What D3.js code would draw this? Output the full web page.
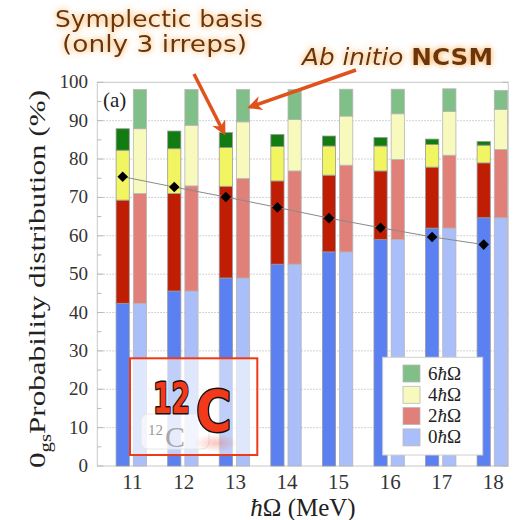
<!DOCTYPE html>
<html><head><meta charset="utf-8">
<script src="https://cdn.jsdelivr.net/npm/d3@7"></script>
<style>body{margin:0;background:#fff}svg{display:block}</style>
</head><body>
<svg id="chart" width="513" height="520"></svg>
<script>
// ħΩ values (MeV)
const categories = [11, 12, 13, 14, 15, 16, 17, 18];
const shellKeys = ["s0", "s2", "s4", "s6"];
const shellLabels = ["0", "2", "4", "6"];

// Symplectic basis (only 3 irreps): probability per Nħω shell, %
const sympl0 = [42.4, 45.6, 49.0, 52.6, 55.8, 59.0, 62.0, 64.7];
const sympl2 = [26.9, 25.4, 23.9, 21.7, 20.0, 17.9, 15.9, 14.3];
const sympl4 = [13.0, 11.7, 10.1, 9.0, 7.6, 6.5, 5.9, 4.6];
const sympl6 = [5.6, 4.6, 3.9, 3.1, 2.6, 2.2, 1.4, 1.0];

// Ab initio NCSM: probability per Nħω shell, %
const ncsm0 = [42.4, 45.6, 49.0, 52.6, 55.8, 59.0, 62.0, 64.7];
const ncsm2 = [28.6, 27.4, 25.9, 24.3, 22.6, 20.9, 19.0, 17.8];
const ncsm4 = [16.9, 15.8, 14.8, 13.4, 12.8, 11.9, 11.4, 10.4];
const ncsm6 = [10.2, 9.3, 8.4, 7.8, 7.0, 6.4, 5.9, 5.0];

// Leading irrep contribution, %
const leadingIrrep = [75.4, 72.7, 70.1, 67.4, 64.6, 62.1, 59.7, 57.7];

const yTicks = [0, 10, 20, 30, 40, 50, 60, 70, 80, 90, 100];

const symplColors = ["#5b80f2", "#bf1d04", "#f2f562", "#127c12"];
const ncsmColors = ["#aabff9", "#e08079", "#f8fabd", "#80bf87"];

const serif = "'Liberation Serif', 'Times New Roman', serif";

const svg = d3.select("#chart");
const defs = svg.append("defs");

// soft orange glow behind the annotation text
const glow = defs.append("filter").attr("id", "glow")
  .attr("x", "-20%").attr("y", "-40%").attr("width", "140%").attr("height", "180%");
glow.append("feGaussianBlur").attr("in", "SourceAlpha").attr("stdDeviation", 3.4).attr("result", "b");
glow.append("feFlood").attr("flood-color", "#f7a23c").attr("flood-opacity", 1);
glow.append("feComposite").attr("in2", "b").attr("operator", "in").attr("result", "g");
const gm = glow.append("feMerge");
gm.append("feMergeNode").attr("in", "g");
gm.append("feMergeNode").attr("in", "SourceGraphic");

// faint reddish reflection under the badge letter
const refl = defs.append("radialGradient").attr("id", "refl");
refl.append("stop").attr("offset", "0%").attr("stop-color", "#f05a40").attr("stop-opacity", 0.35);
refl.append("stop").attr("offset", "100%").attr("stop-color", "#f05a40").attr("stop-opacity", 0);

defs.append("marker").attr("id", "head")
  .attr("viewBox", "0 0 10 10").attr("refX", 8).attr("refY", 5)
  .attr("markerWidth", 4.2).attr("markerHeight", 4.2).attr("orient", "auto")
  .append("path").attr("d", "M0,0 L10,5 L0,10 L3,5 Z").attr("fill", "#e0521b");

const x = d3.scalePoint().domain(categories).range([131.3, 492.3]);
const y = d3.scaleLinear().domain([0, 100]).range([466, 82.3]);
const left = 97.3, right = 508.3;
const barW = 13.2, gap = 2;

// gridlines
svg.append("g").selectAll("line").data(yTicks.filter(d => d > 0 && d < 100)).join("line")
  .attr("x1", left).attr("x2", right).attr("y1", d => y(d)).attr("y2", d => y(d))
  .attr("stroke", "#c4c4c4").attr("stroke-width", 1).attr("stroke-dasharray", "1.5,1.5");

// frame
svg.append("rect").attr("x", left).attr("y", y(100)).attr("width", right - left)
  .attr("height", y(0) - y(100)).attr("fill", "none").attr("stroke", "#c8c8c8").attr("stroke-width", 1);

// inward ticks on both sides
const minor = d3.range(5, 100, 10);
[[left, 1], [right, -1]].forEach(([x0, dir]) => {
  svg.append("g").selectAll("line").data(minor).join("line")
    .attr("x1", x0).attr("x2", x0 + dir * 4).attr("y1", d => y(d)).attr("y2", d => y(d))
    .attr("stroke", "#b8b8b8");
  svg.append("g").selectAll("line").data(yTicks).join("line")
    .attr("x1", x0).attr("x2", x0 + dir * 6).attr("y1", d => y(d)).attr("y2", d => y(d))
    .attr("stroke", "#b8b8b8");
});

// y tick labels
svg.append("g").selectAll("text").data(yTicks).join("text")
  .attr("x", 88).attr("y", d => y(d) + 6).attr("text-anchor", "end")
  .attr("font-family", serif).attr("font-size", 19).attr("fill", "#333")
  .text(d => d);

// x tick labels
svg.append("g").selectAll("text").data(categories).join("text")
  .attr("x", d => x(d) + 1).attr("y", 489).attr("text-anchor", "middle")
  .attr("font-family", serif).attr("font-size", 21).attr("fill", "#333")
  .text(d => d);

// stacked bars
const symplRows = categories.map((c, i) => ({ c, s0: sympl0[i], s2: sympl2[i], s4: sympl4[i], s6: sympl6[i] }));
const ncsmRows = categories.map((c, i) => ({ c, s0: ncsm0[i], s2: ncsm2[i], s4: ncsm4[i], s6: ncsm6[i] }));
const stack = d3.stack().keys(shellKeys);

function drawStacks(rows, colors, offset, stroke) {
  const layers = stack(rows);
  const g = svg.append("g");
  layers.forEach((layer, k) => {
    g.append("g").attr("fill", colors[k]).attr("stroke", stroke).attr("stroke-width", 0.8)
      .selectAll("rect").data(layer).join("rect")
      .attr("x", d => x(d.data.c) + offset)
      .attr("width", barW)
      .attr("y", d => y(d[1]))
      .attr("height", d => y(d[0]) - y(d[1]));
  });
}
drawStacks(symplRows, symplColors, -gap - barW, "#9a9a9a");
drawStacks(ncsmRows, ncsmColors, gap, "#b5b5b5");

// leading irrep line + diamonds
const px = d => x(d) - gap - barW / 2;
svg.append("path")
  .datum(categories.map((c, i) => [px(c), y(leadingIrrep[i])]))
  .attr("d", d3.line()).attr("fill", "none").attr("stroke", "#8a8a8a").attr("stroke-width", 1);
svg.append("g").selectAll("path").data(categories).join("path")
  .attr("transform", (c, i) => `translate(${px(c)},${y(leadingIrrep[i])}) rotate(45)`)
  .attr("d", d3.symbol(d3.symbolSquare, 56)).attr("fill", "#000");

// panel label
svg.append("text").attr("x", 103).attr("y", 107)
  .attr("font-family", serif).attr("font-size", 21).attr("fill", "#222").text("(a)");

// legend
const lg = svg.append("g");
lg.append("rect").attr("x", 382.7).attr("y", 357.3).attr("width", 100).attr("height", 97.7)
  .attr("fill", "#fff").attr("stroke", "#d0d0d0");
[3, 2, 1, 0].forEach((k, j) => {
  const cy = 373.5 + j * 21.3;
  lg.append("rect").attr("x", 403).attr("y", cy - 8.5).attr("width", 17).attr("height", 17)
    .attr("fill", ncsmColors[k]).attr("stroke", "#b9b9b9").attr("stroke-width", 0.8);
  const t = lg.append("text").attr("x", 428).attr("y", cy + 6)
    .attr("font-family", serif).attr("font-size", 19).attr("fill", "#222");
  t.append("tspan").text(shellLabels[k]);
  t.append("tspan").attr("font-style", "italic").text("ħ");
  t.append("tspan").text("Ω");
});

// y axis title
const yt = svg.append("text")
  .attr("transform", "translate(45,279) rotate(-90)").attr("text-anchor", "middle")
  .attr("font-family", serif).attr("font-size", 24).attr("fill", "#222")
  .attr("textLength", 378).attr("lengthAdjust", "spacingAndGlyphs");
yt.append("tspan").text("0");
yt.append("tspan").attr("font-size", 16).attr("dy", 6).text("gs");
yt.append("tspan").attr("dy", -6).text("Probability distribution (%)");

// x axis title
const xt = svg.append("text").attr("x", 303).attr("y", 516).attr("text-anchor", "middle")
  .attr("font-family", serif).attr("font-size", 25).attr("fill", "#222");
xt.append("tspan").attr("font-style", "italic").text("ħ");
xt.append("tspan").text("Ω (MeV)");

// 12C badge
const badge = svg.append("g");
badge.append("rect").attr("x", 130).attr("y", 358.3).attr("width", 127.3).attr("height", 96.7)
  .attr("fill", "#fff").attr("fill-opacity", 0.62).attr("stroke", "#f03a17").attr("stroke-width", 2);
badge.append("rect").attr("x", 141).attr("y", 414).attr("width", 68).attr("height", 35).attr("rx", 7)
  .attr("fill", "#fff").attr("fill-opacity", 0.6).attr("stroke", "#e6e6e6");
badge.append("ellipse").attr("cx", 216).attr("cy", 443).attr("rx", 22).attr("ry", 9)
  .attr("fill", "url(#refl)");
badge.append("text").attr("x", 148).attr("y", 435).attr("font-family", serif)
  .attr("font-size", 15).attr("fill", "#9a9a9a").text("12");
badge.append("text").attr("x", 165).attr("y", 447).attr("font-family", serif)
  .attr("font-size", 30).attr("fill", "#a8a8a8").text("C");
const big = badge.append("g").attr("fill", "#f2391a").attr("stroke", "#111").attr("stroke-width", 3)
  .attr("paint-order", "stroke").attr("stroke-linejoin", "round")
  .attr("font-family", "'DejaVu Sans', sans-serif").attr("font-weight", "bold");
big.append("text").attr("transform", "translate(153,413) scale(0.62,1)").attr("font-size", 43).text("12");
big.append("text").attr("transform", "translate(196,432) scale(0.85,1)").attr("font-size", 57).text("C");

// annotations
const note = svg.append("g").attr("fill", "#6b3511").attr("filter", "url(#glow)")
  .attr("font-family", "'Comic Sans MS', 'DejaVu Sans', sans-serif").attr("font-size", 23);
note.append("text").attr("x", 55).attr("y", 27).attr("textLength", 208).attr("lengthAdjust", "spacingAndGlyphs").text("Symplectic basis");
note.append("text").attr("x", 62).attr("y", 52).attr("textLength", 185).attr("lengthAdjust", "spacingAndGlyphs").text("(only 3 irreps)");
const ab = note.append("text").attr("x", 302).attr("y", 65).attr("textLength", 191).attr("lengthAdjust", "spacingAndGlyphs");
ab.append("tspan").attr("font-style", "italic").text("Ab initio ");
ab.append("tspan").attr("font-weight", "bold").text("NCSM");

svg.append("line").attr("x1", 194).attr("y1", 74).attr("x2", 224).attr("y2", 133)
  .attr("stroke", "#e0521b").attr("stroke-width", 3.5).attr("marker-end", "url(#head)");
svg.append("line").attr("x1", 356).attr("y1", 70).attr("x2", 250).attr("y2", 107)
  .attr("stroke", "#e0521b").attr("stroke-width", 3.5).attr("marker-end", "url(#head)");
</script>
</body></html>
